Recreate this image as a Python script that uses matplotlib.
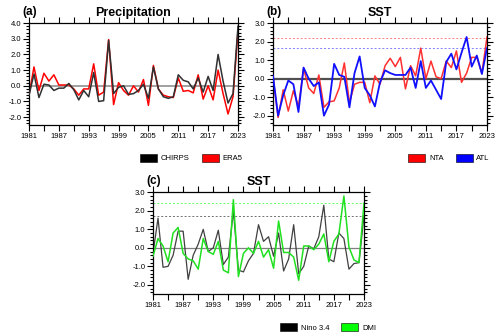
import numpy as np
import matplotlib
matplotlib.use('Agg')
import matplotlib.pyplot as plt
from matplotlib.patches import Patch
from matplotlib.ticker import MultipleLocator, FixedLocator, FormatStrFormatter

plt.rcParams['font.family'] = ['Liberation Sans', 'DejaVu Sans']

years = np.arange(1981, 2024)
year_labels = np.arange(1981, 2024, 6)

# (a) precipitation anomalies
chirps = [-0.6, 0.75, -0.75, 0.1, 0.05, -0.3, -0.15, -0.15, 0.15, -0.25,
          -0.9, -0.3, -0.7, 0.85, -1.0, -0.95, 2.9, -0.5, -0.1, 0.0,
          -0.55, -0.5, -0.3, 0.1, -0.8, 1.2, -0.2, -0.7, -0.8, -0.7,
          0.7, 0.35, 0.25, -0.2, 0.5, -0.4, 0.6, -0.3, 2.0, 0.3,
          -1.1, -0.5, 3.8]
era5 = [-0.6, 1.2, -0.3, 0.8, 0.3, 0.7, 0.05, 0.05, 0.05, -0.2,
        -0.6, -0.2, -0.2, 1.4, -0.6, -0.4, 2.95, -1.2, 0.2, -0.3,
        -0.6, 0.0, -0.4, 0.4, -1.25, 1.3, -0.2, -0.6, -0.7, -0.75,
        0.5, -0.35, -0.3, -0.45, 0.7, -0.85, 0.0, -0.9, 1.0, -0.5,
        -1.8, -0.7, 3.5]

# (b) Atlantic SST indices
nta = [0.1, -2.1, -0.6, -1.75, -0.65, -1.5, 0.55, -0.5, -0.8, 0.2,
       -1.55, -1.25, -1.2, -0.5, 0.85, -1.3, -0.3, -0.2, -0.2, -1.3,
       0.15, -0.3, 0.7, 1.1, 0.65, 1.15, -0.55, 0.7, 0.15, 1.65,
       0.0, 0.95, 0.1, 0.0, 0.95, 0.6, 1.5, -0.2, 0.3, 1.15,
       1.15, 0.3, 2.25]
atl = [0.15, -2.0, -0.9, -0.1, -0.3, -1.8, 0.6, 0.0, -0.4, -0.2,
       -2.0, -1.4, 0.8, 0.2, 0.1, -1.55, 0.3, 1.2, -0.5, -0.9,
       -1.5, -0.2, 0.45, 0.3, 0.2, 0.2, 0.2, 0.6, -0.5, 0.95,
       -0.5, -0.1, -0.6, -1.1, 0.9, 1.35, 0.5, 1.4, 2.25, 0.65,
       1.25, 0.25, 1.65]
nta_thr = 2.22
atl_thr = 1.65

# (c) Pacific / Indian SST indices
nino34 = [-0.3, 1.6, -1.05, -1.0, -0.4, 0.9, 0.9, -1.7, -0.4, 0.2,
          1.0, -0.2, 0.0, 0.95, -0.9, -0.5, 2.0, -1.2, -1.3, -0.7,
          -0.3, 1.25, 0.35, 0.6, -0.45, 0.8, -1.25, -0.6, 1.25, -1.4,
          -1.0, 0.1, -0.05, 0.6, 2.3, -0.6, -0.75, 0.8, 0.5, -1.15,
          -0.85, -0.8, 1.75]
dmi = [-0.45, 0.5, 0.1, -0.75, 0.8, 1.1, -0.3, -0.6, -0.7, -1.15,
       0.5, -0.2, -0.35, 0.35, -1.2, -1.35, 2.6, -1.55, -0.3, 0.0,
       -0.3, 0.35, -0.5, -0.1, -1.1, 1.45, -0.25, -0.25, -0.5, -1.75,
       0.1, 0.1, -0.1, 0.2, 0.75, -0.75, 0.35, 0.75, 2.8, 0.05,
       -0.65, -0.8, 2.4]
nino_thr = 1.74
dmi_thr = 2.41

fig = plt.figure(figsize=(5, 3.35), dpi=100)
ax_a = fig.add_axes([0.058, 0.627, 0.418, 0.304])
ax_b = fig.add_axes([0.546, 0.627, 0.428, 0.304])
ax_c = fig.add_axes([0.306, 0.122, 0.422, 0.304])


def style_axis(ax, ymax, label, title):
    ax.set_xlim(1981, 2023)
    ax.set_ylim(-2.5, ymax)
    ax.xaxis.set_major_locator(FixedLocator(year_labels))
    ax.xaxis.set_minor_locator(FixedLocator(np.arange(1981, 2024, 3)))
    ax.yaxis.set_major_locator(MultipleLocator(1.0))
    ax.yaxis.set_minor_locator(MultipleLocator(0.2))
    ax.yaxis.set_major_formatter(FormatStrFormatter('%.1f'))
    ax.tick_params(which='both', direction='out', top=True, right=True,
                   labelsize=5.5, width=0.8, pad=1.5)
    ax.tick_params(which='major', length=4)
    ax.tick_params(axis='x', which='minor', length=4)
    ax.tick_params(axis='y', which='minor', length=2)
    for s in ax.spines.values():
        s.set_linewidth(0.9)
    ax.set_title(title, fontsize=9, fontweight='bold', pad=5)
    ax.text(-0.03, 1.05, label, transform=ax.transAxes, fontsize=8.5,
            fontweight='bold', ha='left', va='bottom')


def add_legend(ax, names, colors, x0):
    handles = [Patch(facecolor=c, edgecolor='k', linewidth=0.4) for c in colors]
    ax.legend(handles, names, loc='upper left', bbox_to_anchor=(x0, -0.22),
              ncol=2, frameon=False, fontsize=5.5, handlelength=2.2,
              handleheight=1.1, columnspacing=1.6, handletextpad=0.5)


# (a)
ax_a.axhline(0, color='#a0a0a0', lw=1.4, zorder=1)
ax_a.plot(years, chirps, color='#303030', lw=1.1, zorder=3)
ax_a.plot(years, era5, color='red', lw=1.1, zorder=2)
style_axis(ax_a, 4.0, '(a)', 'Precipitation')
add_legend(ax_a, ['CHIRPS', 'ERA5'], ['black', 'red'], 0.5)

# (b)
ax_b.axhline(0, color='#505050', lw=1.6, zorder=1)
ax_b.axhline(nta_thr, color='#ff8080', lw=0.7, ls=(0, (2, 2)))
ax_b.axhline(atl_thr, color='#8080ff', lw=0.7, ls=(0, (2, 2)))
ax_b.plot(years, nta, color='#ff3030', lw=1.1, zorder=2)
ax_b.plot(years, atl, color='#1010ff', lw=1.3, zorder=3)
style_axis(ax_b, 3.0, '(b)', 'SST')
add_legend(ax_b, ['NTA', 'ATL'], ['red', 'blue'], 0.6)

# (c)
ax_c.axhline(0, color='#808080', lw=0.9, zorder=1)
ax_c.axhline(nino_thr, color='#707070', lw=0.7, ls=(0, (2, 2)))
ax_c.axhline(dmi_thr, color='#60ff60', lw=0.7, ls=(0, (2, 2)))
ax_c.plot(years, nino34, color='#404040', lw=0.9, zorder=2)
ax_c.plot(years, dmi, color='#20e020', lw=1.1, zorder=3)
style_axis(ax_c, 3.0, '(c)', 'SST')
add_legend(ax_c, ['Nino 3.4', 'DMI'], ['black', '#00ff00'], 0.57)

fig.savefig('out.png', dpi=100)
